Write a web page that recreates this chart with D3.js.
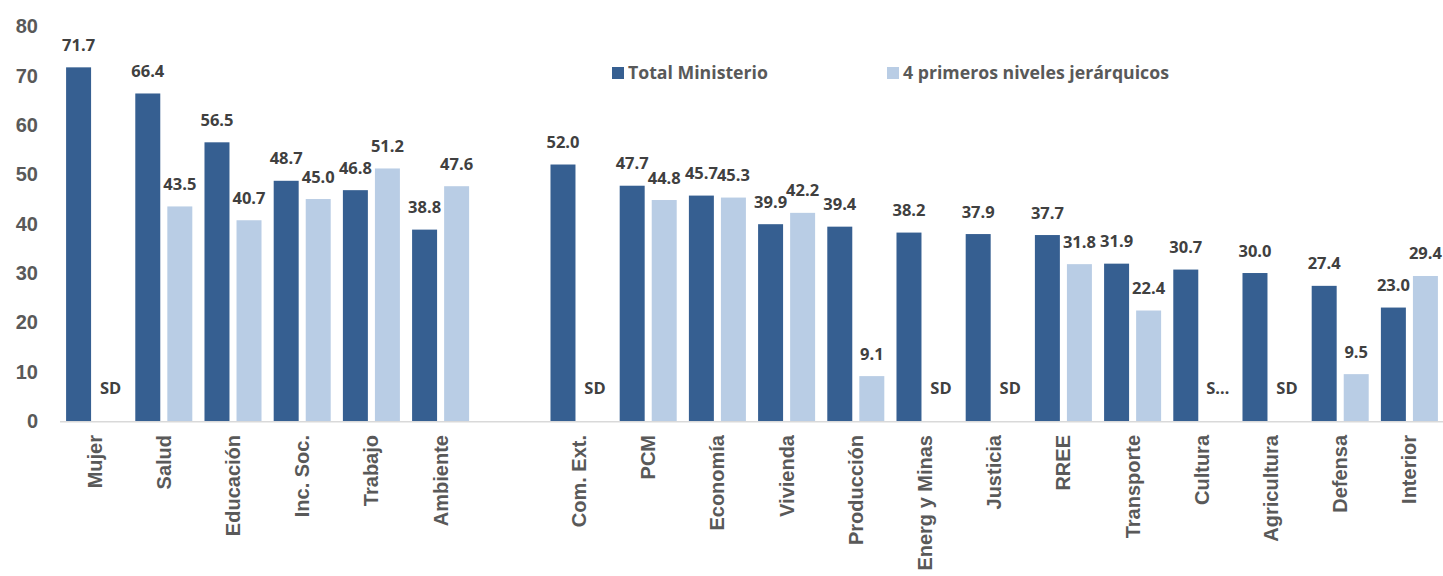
<!DOCTYPE html>
<html>
<head>
<meta charset="utf-8">
<script src="https://cdn.jsdelivr.net/npm/d3@7"></script>
<style>
  body { margin: 0; background: #fff; }
  svg { display: block; }
</style>
</head>
<body>
<svg id="chart" width="1443" height="576"></svg>
<script>
// categories (the blank one is the gap between the two groups)
const ministerios = ["Mujer", "Salud", "Educación", "Inc. Soc.", "Trabajo", "Ambiente", " ",
  "Com. Ext.", "PCM", "Economía", "Vivienda", "Producción", "Energ y Minas", "Justicia",
  "RREE", "Transporte", "Cultura", "Agricultura", "Defensa", "Interior"];
// series values (null = no data)
const totalMinisterio = [71.7, 66.4, 56.5, 48.7, 46.8, 38.8, null,
  52.0, 47.7, 45.7, 39.9, 39.4, 38.2, 37.9, 37.7, 31.9, 30.7, 30.0, 27.4, 23.0];
const primerosNiveles = [null, 43.5, 40.7, 45.0, 51.2, 47.6, null,
  null, 44.8, 45.3, 42.2, 9.1, null, null, 31.8, 22.4, null, null, 9.5, 29.4];
// text shown where the second series has no data
const sinDatos = ["SD", "", "", "", "", "", "",
  "SD", "", "", "", "", "SD", "SD", "", "", "S…", "SD", "", ""];
const seriesNames = ["Total Ministerio", "4 primeros niveles jerárquicos"];
const yTicks = [0, 10, 20, 30, 40, 50, 60, 70, 80];

const colors = ["#365F91", "#B9CDE5"];

const svg = d3.select("#chart");

const x = d3.scaleBand()
  .domain(ministerios)
  .range([60, 1444])
  .paddingInner(0.176)
  .paddingOuter(0.088);

const xs = d3.scaleBand()
  .domain([0, 1])
  .range([0, x.bandwidth()])
  .paddingInner(0.22);

const y = d3.scaleLinear()
  .domain([0, 80])
  .range([421, 26.4]);

// y axis labels only (no line, no grid)
const yAxis = svg.append("g")
  .attr("transform", "translate(38,0)")
  .call(d3.axisLeft(y).tickValues(yTicks).tickSize(0).tickPadding(0).tickFormat(d3.format("d")));
yAxis.select(".domain").remove();
yAxis.selectAll("text")
  .attr("fill", "#595959")
  .style("font-family", "'Liberation Sans', Arial, sans-serif")
  .style("font-weight", "bold")
  .style("font-size", "20px");

// bars
const rows = ministerios.map((m, i) => ({
  name: m, vals: [totalMinisterio[i], primerosNiveles[i]], sd: sinDatos[i]
}));

const groups = svg.append("g").selectAll("g")
  .data(rows)
  .enter()
  .append("g")
  .attr("transform", d => "translate(" + x(d.name) + ",0)");

groups.selectAll("rect")
  .data(d => d.vals.map((v, k) => ({ k: k, v: v })).filter(e => e.v != null))
  .enter()
  .append("rect")
  .attr("x", e => xs(e.k))
  .attr("width", xs.bandwidth())
  .attr("y", e => y(e.v))
  .attr("height", e => y(0) - y(e.v))
  .attr("fill", e => colors[e.k]);

// value labels
groups.selectAll("text.val")
  .data(d => d.vals.map((v, k) => ({ k: k, v: v })).filter(e => e.v != null))
  .enter()
  .append("text")
  .classed("val", true)
  .attr("x", e => xs(e.k) + xs.bandwidth() / 2)
  .attr("y", e => y(e.v) - 16.5)
  .attr("text-anchor", "middle")
  .attr("fill", "#404040")
  .style("font-family", "'Open Sans', sans-serif")
  .style("font-weight", "bold")
  .style("font-size", "16.5px")
  .text(e => d3.format(".1f")(e.v));

// "SD" labels
groups.filter(d => d.sd !== "")
  .append("text")
  .attr("x", xs(1) + xs.bandwidth() / 2)
  .attr("y", y(0) - 27)
  .attr("text-anchor", "middle")
  .attr("fill", "#404040")
  .style("font-family", "'Open Sans', sans-serif")
  .style("font-weight", "bold")
  .style("font-size", "16.5px")
  .text(d => d.sd);

// x axis line
svg.append("line")
  .attr("x1", 60).attr("x2", 1443)
  .attr("y1", y(0) + 0.75).attr("y2", y(0) + 0.75)
  .attr("stroke", "#D9D9D9")
  .attr("stroke-width", 1.5);

// category labels, rotated
svg.append("g").selectAll("text")
  .data(ministerios.filter(m => m.trim() !== ""))
  .enter()
  .append("text")
  .attr("transform", d => "translate(" + (x(d) + x.bandwidth() / 2 + 7) + "," + (y(0) + 14) + ") rotate(-90)")
  .attr("text-anchor", "end")
  .attr("fill", "#595959")
  .style("font-family", "'Liberation Sans', Arial, sans-serif")
  .style("font-weight", "bold")
  .style("font-size", "20px")
  .text(d => d);

// legend
const legendX = [612, 887];
const legend = svg.append("g").selectAll("g")
  .data(seriesNames)
  .enter()
  .append("g")
  .attr("transform", (d, i) => "translate(" + legendX[i] + ",67)");
legend.append("rect")
  .attr("width", 12).attr("height", 12)
  .attr("fill", (d, i) => colors[i]);
legend.append("text")
  .attr("x", 16)
  .attr("y", 11.5)
  .attr("fill", "#595959")
  .style("font-family", "'Open Sans', sans-serif")
  .style("font-weight", "bold")
  .style("font-size", "17.7px")
  .text(d => d);
</script>
</body>
</html>
